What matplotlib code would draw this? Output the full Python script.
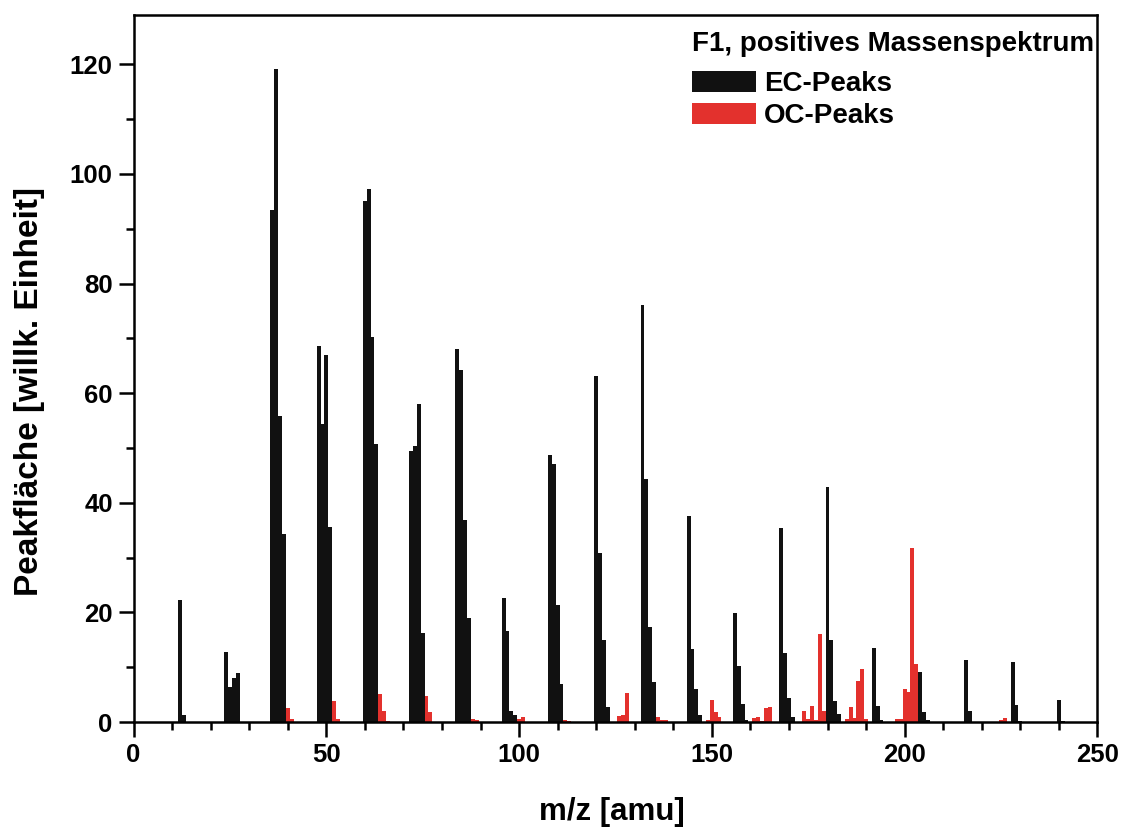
import numpy as np
import matplotlib
matplotlib.use("Agg")
import matplotlib.pyplot as plt
from matplotlib.ticker import MultipleLocator

plt.rcParams['font.family'] = ['Liberation Sans', 'DejaVu Sans']
plt.rcParams['font.weight'] = 'bold'

# EC peaks (black): m/z and peak area
ec_mz = [12, 13,
         24, 25, 26, 27,
         36, 37, 38, 39,
         48, 49, 50, 51,
         60, 61, 62, 63,
         72, 73, 74, 75,
         84, 85, 86, 87,
         96, 97, 98, 99,
         108, 109, 110, 111,
         120, 121, 122, 123,
         132, 133, 134, 135,
         144, 145, 146, 147,
         156, 157, 158, 159,
         168, 169, 170, 171,
         180, 181, 182, 183,
         192, 193, 194,
         204, 205, 206,
         216, 217,
         228, 229, 230,
         240, 241]
ec_val = [22.3, 1.2,
          12.8, 6.3, 8.1, 9.0,
          93.5, 119.2, 55.9, 34.3,
          68.6, 54.4, 66.9, 35.5,
          95.0, 97.3, 70.3, 50.7,
          49.4, 50.4, 58.1, 16.3,
          68.1, 64.2, 36.9, 18.9,
          22.7, 16.6, 2.0, 1.2,
          48.8, 47.0, 21.3, 6.9,
          63.1, 30.8, 15.0, 2.8,
          76.0, 44.3, 17.3, 7.3,
          37.5, 13.4, 6.1, 1.2,
          19.9, 10.3, 3.2, 0.4,
          35.4, 12.6, 4.4, 0.9,
          42.8, 15.0, 3.8, 1.4,
          13.5, 3.0, 0.3,
          9.2, 1.8, 0.3,
          11.3, 2.0,
          10.9, 3.1, 0.2,
          4.1, 0.2]

# OC peaks (red)
oc_mz = [40, 41, 52, 53, 64, 65, 66, 76, 77, 88, 89, 100, 101, 112, 113,
         126, 127, 128, 136, 137, 138, 149, 150, 151, 152,
         161, 162, 163, 164, 165,
         174, 175, 176, 177, 178, 179,
         185, 186, 187, 188, 189, 190,
         198, 199, 200, 201, 202, 203,
         225, 226]
oc_val = [2.5, 0.6, 3.8, 0.5, 5.1, 2.0, 0.2, 4.7, 1.8, 0.5, 0.3, 0.5, 1.0, 0.3, 0.2,
          1.1, 1.2, 5.3, 0.9, 0.4, 0.4, 0.4, 4.0, 1.8, 0.9,
          0.7, 1.0, 0.2, 2.5, 2.7,
          2.0, 0.5, 2.9, 0.3, 16.1, 2.1,
          0.5, 2.7, 0.7, 7.4, 9.6, 0.6,
          0.6, 0.6, 6.0, 5.4, 31.8, 10.5,
          0.3, 0.8]

fig = plt.figure(figsize=(11.23, 8.30), dpi=100)
ax = fig.add_axes([0.1189, 0.1301, 0.8583, 0.8519])

ax.bar(ec_mz, ec_val, width=1.0, color='#111111', linewidth=0, label='EC-Peaks')
ax.bar(oc_mz, oc_val, width=1.0, color='#e3312d', linewidth=0, label='OC-Peaks')

ax.set_xlim(0, 250)
ax.set_ylim(0, 129)

ax.xaxis.set_major_locator(MultipleLocator(50))
ax.xaxis.set_minor_locator(MultipleLocator(10))
ax.yaxis.set_major_locator(MultipleLocator(20))
ax.yaxis.set_minor_locator(MultipleLocator(10))
ax.tick_params(which='major', direction='out', length=11, width=1.8, labelsize=18.5, pad=4)
ax.tick_params(which='minor', direction='out', length=6, width=1.8)
ax.tick_params(top=False, right=False)
for lab in ax.get_xticklabels() + ax.get_yticklabels():
    lab.set_fontweight('bold')
for sp in ax.spines.values():
    sp.set_linewidth(1.8)

ax.set_xlabel('m/z [amu]', fontsize=22.5, fontweight='bold')
ax.set_ylabel('Peakfläche [willk. Einheit]', fontsize=24, fontweight='bold')
ax.xaxis.set_label_coords(0.4965, -0.106)
ax.yaxis.set_label_coords(-0.092, 0.467)

# legend title as its own text, entries below with a bit more room
ax.text(0.5795, 0.959, 'F1, positives Massenspektrum', transform=ax.transAxes,
        ha='left', va='center', fontsize=20, fontweight='bold')
leg = ax.legend(loc='upper left', bbox_to_anchor=(0.5795, 0.921),
                frameon=False, fontsize=20,
                handlelength=2.3, handleheight=0.8, handletextpad=0.3,
                labelspacing=0.2, borderaxespad=0, borderpad=0)
for t in leg.get_texts():
    t.set_fontweight('bold')

fig.savefig('out.png', dpi=100)
